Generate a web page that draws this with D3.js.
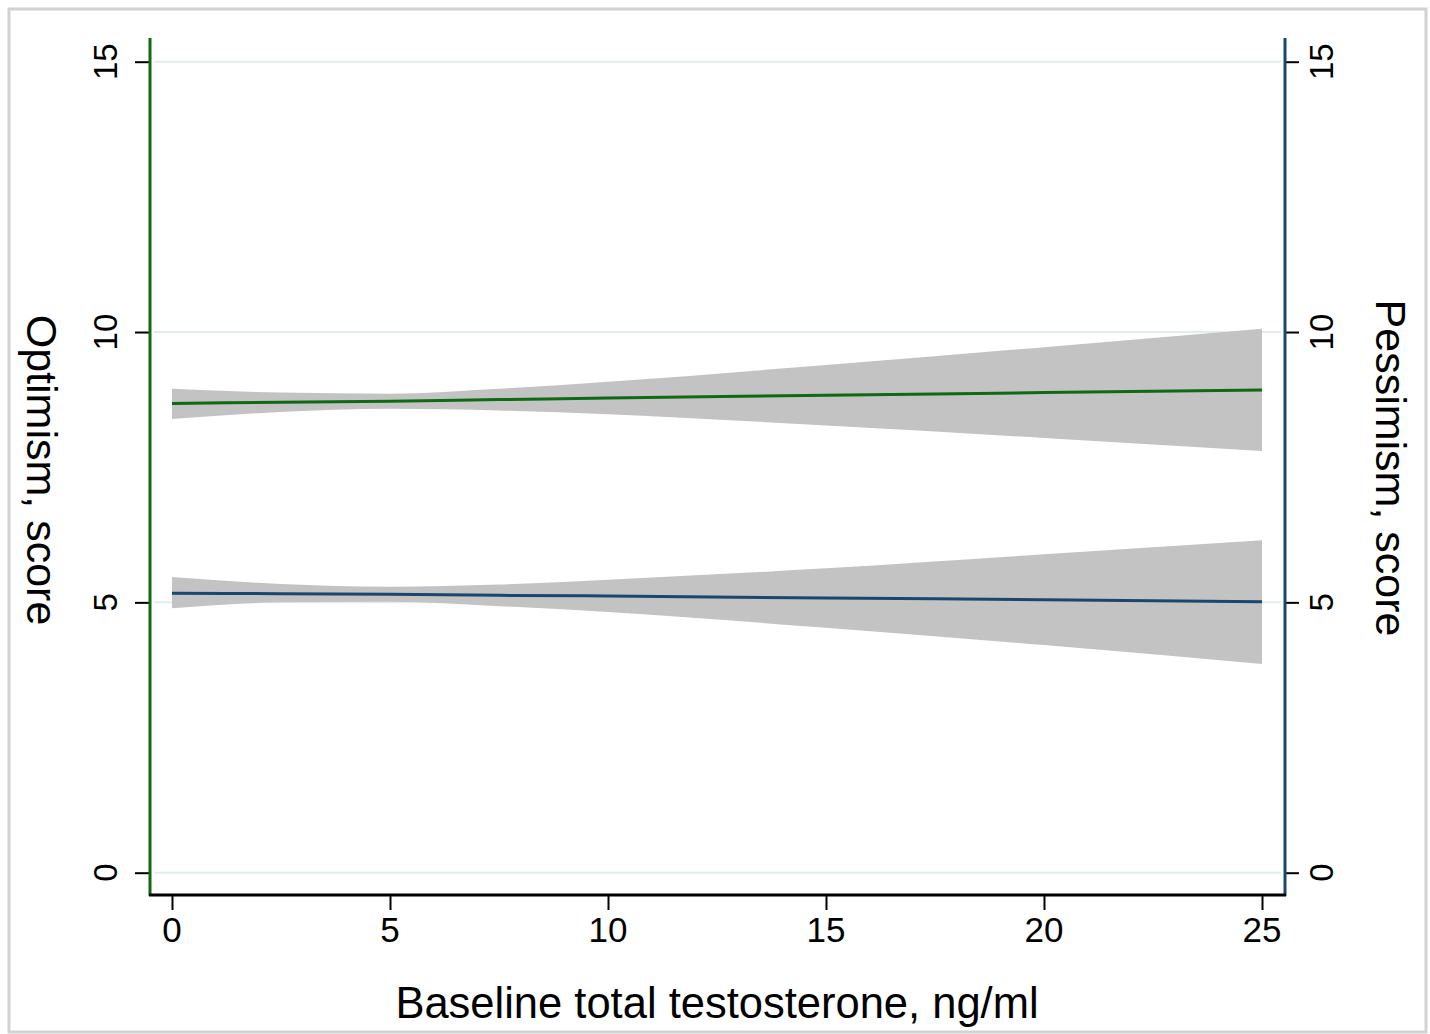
<!DOCTYPE html>
<html>
<head>
<meta charset="utf-8">
<script src="https://cdn.jsdelivr.net/npm/d3@7"></script>
<style>
  html, body { margin: 0; padding: 0; background: #fff; }
  svg { display: block; font-family: "Liberation Sans", Arial, sans-serif; }
</style>
</head>
<body>
<svg id="chart" width="1430" height="1034"></svg>
<script>
// ---- data ----
const testosterone = [0, 2.5, 5, 7.5, 10, 15, 20, 25];
const optimismFit   = [8.68, 8.70, 8.72, 8.75, 8.78, 8.83, 8.88, 8.93];
const optimismUpper = [8.95, 8.88, 8.86, 8.95, 9.08, 9.39, 9.72, 10.06];
const optimismLower = [8.39, 8.52, 8.58, 8.55, 8.48, 8.27, 8.04, 7.80];
const pessimismFit   = [5.17, 5.16, 5.15, 5.13, 5.12, 5.08, 5.05, 5.01];
const pessimismUpper = [5.47, 5.34, 5.29, 5.33, 5.42, 5.63, 5.89, 6.15];
const pessimismLower = [4.89, 5.00, 5.01, 4.93, 4.82, 4.53, 4.21, 3.86];
const xTicks = [0, 5, 10, 15, 20, 25];
const yTicks = [0, 5, 10, 15];
const xTitle = "Baseline total testosterone, ng/ml";
const yLeftTitle = "Optimism, score";
const yRightTitle = "Pessimism, score";

// ---- layout ----
const svg = d3.select("#chart");
const plotLeft = 150, plotRight = 1285, plotTop = 38, plotBottom = 895;
const x = d3.scaleLinear().domain([0, 25]).range([172, 1262]);
const yL = d3.scaleLinear().domain([0, 15]).range([872.7, 61.7]);
const yR = d3.scaleLinear().domain([0, 15]).range([872.7, 61.7]);

const green = "#0f6a12";
const navy = "#1a476f";
const band = "#c3c3c3";

// outer frame
svg.append("rect").attr("x", 9).attr("y", 9).attr("width", 1417).attr("height", 1023)
  .attr("fill", "#fff").attr("stroke", "#d2d2d2").attr("stroke-width", 3);

// gridlines
svg.append("g").selectAll("line").data(yTicks).join("line")
  .attr("x1", plotLeft + 4).attr("x2", plotRight - 4)
  .attr("y1", d => yL(d)).attr("y2", d => yL(d))
  .attr("stroke", "#e3edf0").attr("stroke-width", 2);

// confidence bands and fitted lines
function drawSeries(fit, lo, hi, color, yScale) {
  const rows = testosterone.map((t, i) => ({t, fit: fit[i], lo: lo[i], hi: hi[i]}));
  const area = d3.area().curve(d3.curveMonotoneX)
    .x(d => x(d.t)).y0(d => yScale(d.lo)).y1(d => yScale(d.hi));
  svg.append("path").datum(rows).attr("d", area).attr("fill", band);
  const line = d3.line().curve(d3.curveMonotoneX).x(d => x(d.t)).y(d => yScale(d.fit));
  svg.append("path").datum(rows).attr("d", line).attr("fill", "none")
    .attr("stroke", color).attr("stroke-width", 3);
}
drawSeries(optimismFit, optimismLower, optimismUpper, green, yL);
drawSeries(pessimismFit, pessimismLower, pessimismUpper, navy, yR);

// left axis
const gL = svg.append("g").attr("transform", `translate(${plotLeft},0)`)
  .call(d3.axisLeft(yL).tickValues(yTicks).tickSize(15).tickFormat(""));
gL.select(".domain").remove();
gL.selectAll(".tick line").attr("stroke", "#000").attr("stroke-width", 2);
svg.append("line").attr("x1", plotLeft).attr("x2", plotLeft).attr("y1", plotTop).attr("y2", plotBottom + 1)
  .attr("stroke", green).attr("stroke-width", 3);
svg.append("g").selectAll("text").data(yTicks).join("text")
  .attr("transform", d => `translate(117,${yL(d)}) rotate(-90)`)
  .attr("text-anchor", "middle").attr("font-size", 33).attr("fill", "#000")
  .text(d => d);

// right axis
const gR = svg.append("g").attr("transform", `translate(${plotRight},0)`)
  .call(d3.axisRight(yR).tickValues(yTicks).tickSize(14).tickFormat(""));
gR.select(".domain").remove();
gR.selectAll(".tick line").attr("stroke", "#000").attr("stroke-width", 2);
svg.append("line").attr("x1", plotRight).attr("x2", plotRight).attr("y1", plotTop).attr("y2", plotBottom + 1)
  .attr("stroke", navy).attr("stroke-width", 3);
svg.append("g").selectAll("text").data(yTicks).join("text")
  .attr("transform", d => `translate(1333,${yR(d)}) rotate(-90)`)
  .attr("text-anchor", "middle").attr("font-size", 33).attr("fill", "#000")
  .text(d => d);

// bottom axis
const gB = svg.append("g").attr("transform", `translate(0,${plotBottom})`)
  .call(d3.axisBottom(x).tickValues(xTicks).tickSize(15).tickFormat(""));
gB.select(".domain").remove();
gB.selectAll(".tick line").attr("stroke", "#000").attr("stroke-width", 2);
svg.append("line").attr("x1", plotLeft - 1).attr("x2", plotRight + 1).attr("y1", plotBottom).attr("y2", plotBottom)
  .attr("stroke", "#000").attr("stroke-width", 3);
svg.append("g").selectAll("text").data(xTicks).join("text")
  .attr("x", d => x(d)).attr("y", 942)
  .attr("text-anchor", "middle").attr("font-size", 35).attr("fill", "#000")
  .text(d => d);

// axis titles
svg.append("text").attr("x", 717).attr("y", 1018).attr("text-anchor", "middle")
  .attr("font-size", 43.5).attr("fill", "#000").text(xTitle);
svg.append("text").attr("transform", `translate(27,470) rotate(90)`).attr("text-anchor", "middle")
  .attr("font-size", 43).attr("fill", "#000").text(yLeftTitle);
svg.append("text").attr("transform", `translate(1376,468) rotate(90)`).attr("text-anchor", "middle")
  .attr("font-size", 43).attr("fill", "#000").text(yRightTitle);
</script>
</body>
</html>
